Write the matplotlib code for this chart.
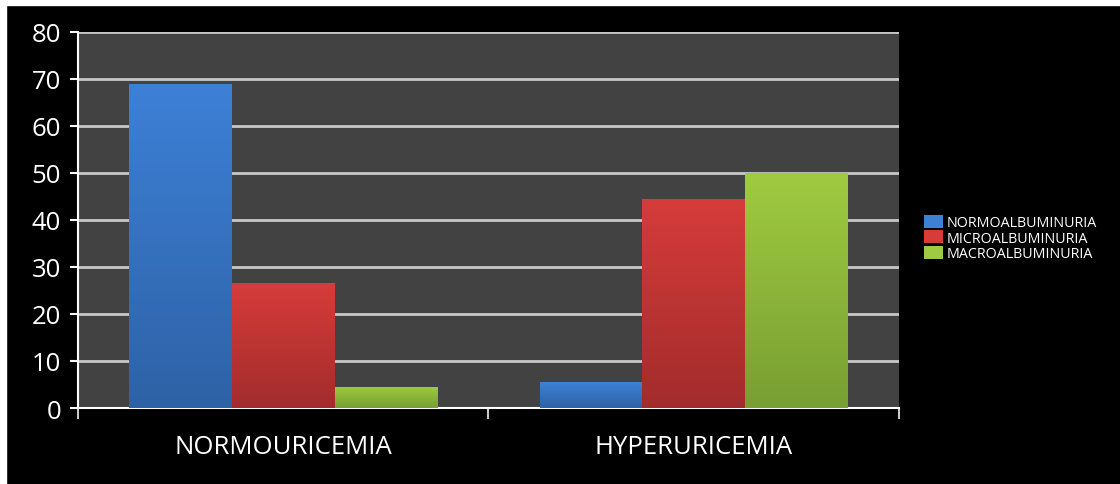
import numpy as np
import matplotlib.pyplot as plt
from matplotlib.colors import LinearSegmentedColormap
from matplotlib.patches import Rectangle

categories = ['NORMOURICEMIA', 'HYPERURICEMIA']
series = ['NORMOALBUMINURIA', 'MICROALBUMINURIA', 'MACROALBUMINURIA']
normo = [69, 5.5]
micro = [26.5, 44.5]
macro = [4.5, 50]
values = [normo, micro, macro]
# top colour, bottom colour for the gradient fill
colors = [('#3d80d6', '#2e62a6'), ('#d63c3a', '#a22c2c'), ('#9fcb40', '#789f33')]

plt.rcParams['font.family'] = ['Open Sans', 'DejaVu Sans']

fig = plt.figure(figsize=(11.2, 4.85), dpi=100, facecolor='black')
ax = fig.add_axes([0.0696, 0.1567, 0.7331, 0.7753])
ax.set_facecolor('#424242')

x = np.arange(len(categories))
w = 0.25
for i, (name, vals) in enumerate(zip(series, values)):
    top, bot = colors[i]
    bars = ax.bar(x + (i - 1) * w, vals, w, color=top, label=name, zorder=3)
    cmap = LinearSegmentedColormap.from_list('g%d' % i, [bot, top])
    for b in bars:
        x0, y0 = b.get_x(), b.get_y()
        im = ax.imshow(np.linspace(0, 1, 100).reshape(-1, 1), cmap=cmap, aspect='auto',
                       origin='lower', extent=[x0, x0 + b.get_width(), y0, y0 + b.get_height()],
                       zorder=4)
        im.set_clip_path(b)

ax.set_xlim(-0.5, 1.5)
ax.set_ylim(0, 80)
ax.set_yticks(range(0, 81, 10))
ax.yaxis.grid(True, color='#c8c8c8', linewidth=2, zorder=1)
ax.set_axisbelow(True)

ax.set_xticks(x)
ax.set_xticklabels(categories, fontsize=18.5, color='white')
ax.tick_params(axis='x', which='major', length=0, pad=19)
ax.set_xticks([-0.5, 0.5, 1.5], minor=True)
ax.tick_params(axis='x', which='minor', length=8, width=1.5, color='#c8c8c8')
ax.tick_params(axis='y', length=6, width=1.5, color='white', labelcolor='white',
               labelsize=18.5, pad=6)

for s in ['top', 'right']:
    ax.spines[s].set_visible(False)
for s in ['left', 'bottom']:
    ax.spines[s].set_color('white')
    ax.spines[s].set_linewidth(1.5)

leg = fig.legend(loc='center left', bbox_to_anchor=(0.825, 0.507), frameon=False,
                 fontsize=10.3, handlelength=1.3, handleheight=1.0, handletextpad=0.25,
                 labelspacing=0.0, borderaxespad=0, borderpad=0)
for t in leg.get_texts():
    t.set_color('white')

# white margin at top and left edge of the original image
fig.patches.append(Rectangle((0, 1 - 6 / 485), 1, 6 / 485, transform=fig.transFigure,
                             color='white', zorder=10))
fig.patches.append(Rectangle((0, 0), 6 / 1120, 1, transform=fig.transFigure,
                             color='white', zorder=10))

fig.savefig('out.png', dpi=100, facecolor='black')
